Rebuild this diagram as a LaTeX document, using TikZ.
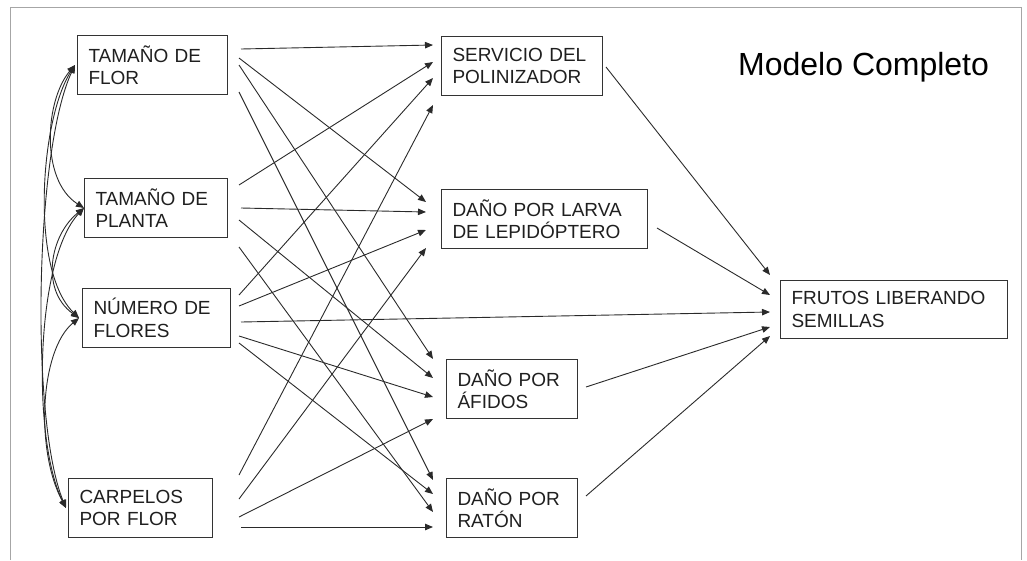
\documentclass[tikz,border=0pt]{standalone}
\usepackage{fontspec}
\setmainfont{Liberation Sans}
\usetikzlibrary{arrows.meta}
\definecolor{boxc}{HTML}{333333}
\definecolor{linec}{HTML}{2A2A2A}
\definecolor{framec}{HTML}{A6A6A6}
\begin{document}
\begin{tikzpicture}[x=1pt,y=1pt,
  box/.style={draw=boxc, line width=1pt, anchor=north west, align=left,
    inner xsep=11pt, inner ysep=0pt, minimum height=59pt,
    font=\fontsize{19}{22.5}\selectfont, text=black!88},
  link/.style={draw=linec, line width=0.9pt, -{Triangle[length=8pt,width=6.5pt]}},
  corr/.style={draw=linec, line width=0.9pt,
    {Triangle[length=8pt,width=6.5pt]}-{Triangle[length=8pt,width=6.5pt]}}
]
\useasboundingbox (0,0) rectangle (1027,-560);
\draw[framec, line width=1pt] (10,-560) -- (10,-7) -- (1021,-7) -- (1021,-560);

\node[font=\fontsize{32}{38}\selectfont, anchor=base west, inner sep=0pt] (title) at (738,-75) {Modelo Completo};

% predictors
\node[box, text width=128pt] (flor) at (77,-35) {TAMAÑO DE\\FLOR};
\node[box, text width=121pt] (planta) at (84,-178) {TAMAÑO DE\\PLANTA};
\node[box, text width=126pt] (numero) at (82,-288) {NÚMERO DE\\FLORES};
\node[box, text width=122pt] (carpelos) at (68,-478) {CARPELOS\\POR FLOR};
% mediators
\node[box, text width=139pt] (serv) at (441,-36) {SERVICIO DEL\\POLINIZADOR};
\node[box, text width=184pt] (larva) at (441,-189) {DAÑO POR LARVA\\DE LEPIDÓPTERO};
\node[box, text width=109pt] (afidos) at (446,-359) {DAÑO POR\\ÁFIDOS};
\node[box, text width=109pt] (raton) at (446,-478) {DAÑO POR\\RATÓN};
% response
\node[box, text width=205pt, minimum height=58pt] (frutos) at (780,-280) {FRUTOS LIBERANDO\\SEMILLAS};

% from TAMAÑO DE FLOR
\draw[link] ([shift={(13,-14)}]flor.north east) -- ([shift={(-8,-9)}]serv.north west);
\draw[link] ([shift={(11,-23)}]flor.north east) -- ([shift={(-15,-13)}]larva.north west);
\draw[link] ([shift={(11,-30)}]flor.north east) -- ([shift={(-13,0)}]afidos.north west);
\draw[link] ([shift={(11,-57)}]flor.north east) -- ([shift={(-13,-2)}]raton.north west);
% from TAMAÑO DE PLANTA
\draw[link] ([shift={(11,-7)}]planta.north east) -- ([shift={(-8,-26)}]serv.north west);
\draw[link] ([shift={(13,-30)}]planta.north east) -- ([shift={(-15,-23)}]larva.north west);
\draw[link] ([shift={(11,-42)}]planta.north east) -- ([shift={(-13,-19)}]afidos.north west);
\draw[link] ([shift={(11,-69)}]planta.north east) -- ([shift={(-13,-34)}]raton.north west);
% from NÚMERO DE FLORES
\draw[link] ([shift={(8,-7)}]numero.north east) -- ([shift={(-8,-42)}]serv.north west);
\draw[link] ([shift={(8,-18)}]numero.north east) -- ([shift={(-15,-41)}]larva.north west);
\draw[link] ([shift={(10,-34)}]numero.north east) -- ([shift={(-10,-32)}]frutos.north west);
\draw[link] ([shift={(8,-48)}]numero.north east) -- ([shift={(-13,-38)}]afidos.north west);
\draw[link] ([shift={(8,-55)}]numero.north east) -- ([shift={(-13,-16)}]raton.north west);
% from CARPELOS POR FLOR
\draw[link] ([shift={(26,3)}]carpelos.north east) -- ([shift={(-8,-69)}]serv.north west);
\draw[link] ([shift={(26,-21)}]carpelos.north east) -- ([shift={(-15,-59)}]larva.north west);
\draw[link] ([shift={(26,-39)}]carpelos.north east) -- ([shift={(-13,-60)}]afidos.north west);
\draw[link] ([shift={(28,-49)}]carpelos.north east) -- ([shift={(-13,-49)}]raton.north west);
% mediators to response
\draw[link] ([shift={(3,-31)}]serv.north east) -- ([shift={(-10,5)}]frutos.north west);
\draw[link] ([shift={(9,-39)}]larva.north east) -- ([shift={(-10,-15)}]frutos.north west);
\draw[link] ([shift={(8,-28)}]afidos.north east) -- ([shift={(-10,-47)}]frutos.north west);
\draw[link] ([shift={(8,-18)}]raton.north east) -- ([shift={(-10,-56)}]frutos.north west);

% correlations among predictors
\draw[corr] ([xshift=-2pt]flor.west) .. controls (45,-100) and (40,-180) .. (planta.west);
\draw[corr] ([xshift=-2pt]flor.west) .. controls (40,-120) and (30,-270) .. ([xshift=-3pt]numero.west);
\draw[corr] ([xshift=-2pt]flor.west) .. controls (35,-150) and (30,-420) .. ([xshift=-2pt]carpelos.west);
\draw[corr] (planta.west) .. controls (50,-235) and (40,-290) .. ([xshift=-3pt]numero.west);
\draw[corr] (planta.west) .. controls (35,-260) and (32,-440) .. ([xshift=-2pt]carpelos.west);
\draw[corr] ([xshift=-3pt]numero.west) .. controls (40,-350) and (35,-450) .. ([xshift=-2pt]carpelos.west);
\end{tikzpicture}
\end{document}
